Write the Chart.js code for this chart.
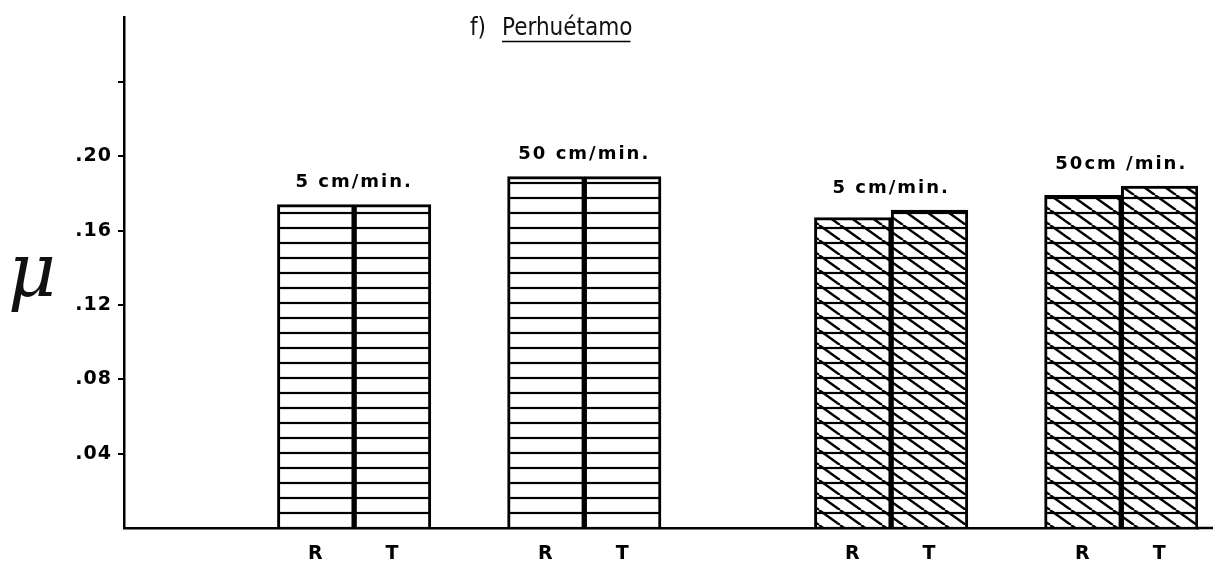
<!DOCTYPE html>
<html>
<head>
<meta charset="utf-8">
<script src="https://cdn.jsdelivr.net/npm/chart.js@4.4.0/dist/chart.umd.min.js"></script>
<style>
  html, body { margin: 0; padding: 0; background: #fff; }
  #wrap { width: 1213px; height: 568px; position: relative; }
</style>
</head>
<body>
<div id="wrap"><canvas id="c" width="1213" height="568"></canvas></div>
<script>
// ---------------- data ----------------
const categories = ['5 cm/min.', '50 cm/min.', '5 cm/min.', '50cm /min.'];
const seriesR = [0.174, 0.189, 0.167, 0.179];
const seriesT = [0.174, 0.189, 0.171, 0.184];
const barLabels = ['R', 'T'];
const yTickValues = [0.04, 0.08, 0.12, 0.16, 0.20, 0.24];
const yTickLabels = ['.04', '.08', '.12', '.16', '.20', ''];
const titleLead = 'f)';
const titleName = 'Perhuétamo';
const yAxisSymbol = 'μ';

// ---------------- layout / style ----------------
const gapSlotsBefore = [2, 1, 2, 1];
const groupHatch = ['horizontal', 'horizontal', 'diagonal', 'diagonal'];
const BOLD = '"DejaVu Sans", "Liberation Sans", sans-serif';

function makePattern(kind) {
  const w = kind === 'diagonal' ? 21 : 8, h = 15;
  const c = document.createElement('canvas');
  c.width = w; c.height = h;
  const g = c.getContext('2d');
  g.fillStyle = '#fff'; g.fillRect(0, 0, w, h);
  g.strokeStyle = '#000'; g.lineWidth = 2.2;
  g.beginPath(); g.moveTo(0, 3); g.lineTo(w, 3); g.stroke();
  if (kind === 'diagonal') {
    g.lineWidth = 2.4;
    for (const dx of [-w, 0, w]) {
      g.beginPath(); g.moveTo(dx, 0); g.lineTo(dx + w, h); g.stroke();
    }
  }
  return g.createPattern(c, 'repeat');
}
const patterns = { horizontal: makePattern('horizontal'), diagonal: makePattern('diagonal') };

// build slots
const slotLabels = [], slotValues = [], slotFills = [], groupSlots = [];
categories.forEach((cat, g) => {
  for (let i = 0; i < gapSlotsBefore[g]; i++) { slotLabels.push(''); slotValues.push(null); slotFills.push('#fff'); }
  const idx = [];
  [seriesR[g], seriesT[g]].forEach((v, k) => {
    idx.push(slotLabels.length);
    slotLabels.push(barLabels[k]); slotValues.push(v); slotFills.push(patterns[groupHatch[g]]);
  });
  groupSlots.push(idx);
});

const decorPlugin = {
  id: 'decor',
  beforeDraw(chart) { chart.ctx.letterSpacing = '1px'; },
  afterDatasetsDraw(chart) {
    const ctx = chart.ctx;
    const meta = chart.getDatasetMeta(0);
    ctx.save();
    ctx.fillStyle = '#000';
    ctx.font = 'bold 18px ' + BOLD;
    ctx.letterSpacing = '2px';
    ctx.textAlign = 'center';
    ctx.textBaseline = 'middle';
    categories.forEach((cat, g) => {
      const a = meta.data[groupSlots[g][0]], b = meta.data[groupSlots[g][1]];
      const x = (a.x + b.x) / 2;
      const y = Math.min(a.y, b.y) - 22;
      ctx.fillText(cat, x, y);
    });
    ctx.restore();
  },
  afterDraw(chart) {
    const ctx = chart.ctx, ca = chart.chartArea;
    ctx.save();
    ctx.letterSpacing = '0px';
    // extend x axis line to the right edge
    ctx.strokeStyle = '#000'; ctx.lineWidth = 2.5;
    ctx.beginPath(); ctx.moveTo(ca.right - 2, ca.bottom); ctx.lineTo(chart.width, ca.bottom); ctx.stroke();
    // title
    ctx.fillStyle = '#111';
    ctx.font = '24px "Liberation Sans Narrow", "DejaVu Sans Condensed", sans-serif';
    ctx.textAlign = 'left'; ctx.textBaseline = 'alphabetic';
    ctx.fillText(titleLead, 470, 35);
    ctx.fillText(titleName, 502, 35);
    const w = ctx.measureText(titleName).width;
    ctx.lineWidth = 1.5;
    ctx.beginPath(); ctx.moveTo(502, 41.5); ctx.lineTo(500 + w, 41.5); ctx.stroke();
    // y axis symbol
    ctx.font = 'italic 74px "DejaVu Serif", serif';
    ctx.textAlign = 'center';
    ctx.fillText(yAxisSymbol, 32, 296);
    ctx.restore();
  }
};

new Chart(document.getElementById('c'), {
  type: 'bar',
  data: {
    labels: slotLabels,
    datasets: [{
      data: slotValues,
      backgroundColor: slotFills,
      borderColor: '#000',
      borderWidth: 3,
      barPercentage: 1,
      categoryPercentage: 1
    }]
  },
  options: {
    responsive: false,
    devicePixelRatio: 1,
    animation: false,
    layout: { padding: { left: 0, right: 15, top: 9, bottom: 0 } },
    plugins: { legend: { display: false }, tooltip: { enabled: false }, title: { display: false } },
    scales: {
      x: {
        type: 'category',
        grid: { display: false, drawTicks: false },
        border: { display: true, color: '#000', width: 2.5 },
        ticks: { color: '#000', font: { family: BOLD, size: 19, weight: 'bold' }, padding: 15, autoSkip: false, maxRotation: 0 },
        afterFit(s) { s.height = 40; }
      },
      y: {
        min: 0,
        max: 0.2747,
        grid: { display: true, drawOnChartArea: false, drawTicks: true, tickLength: 6, color: '#000', lineWidth: 2 },
        border: { display: true, color: '#000', width: 2.5 },
        afterBuildTicks(s) { s.ticks = yTickValues.map(v => ({ value: v })); },
        ticks: {
          color: '#000',
          font: { family: BOLD, size: 19, weight: 'bold' },
          padding: 6,
          callback: (v, i) => yTickLabels[i]
        },
        afterFit(s) { s.width = 124; }
      }
    }
  },
  plugins: [decorPlugin]
});
</script>
</body>
</html>
